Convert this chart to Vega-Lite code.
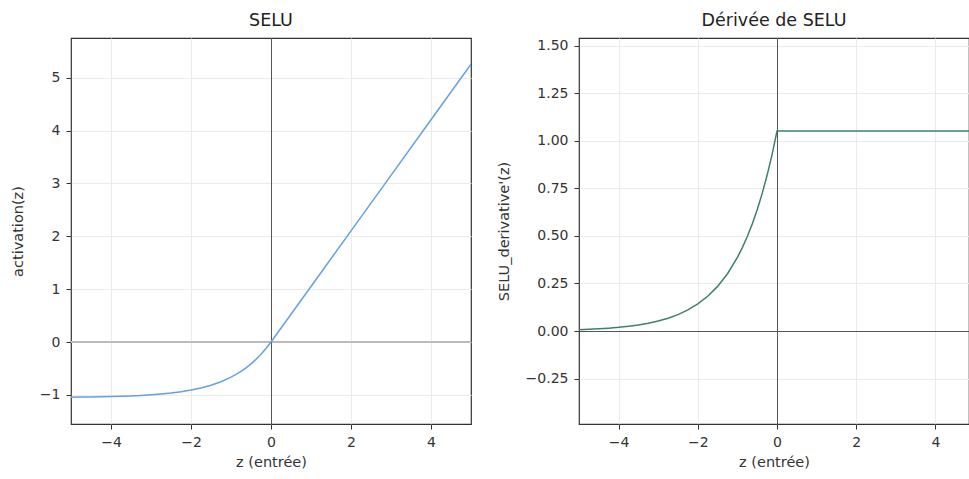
{
  "$schema": "https://vega.github.io/schema/vega-lite/v6.json",
  "padding": {"left": 9, "top": 11, "right": 0, "bottom": 0},
  "background": "white",
  "spacing": 22,
  "datasets": {
    "selu": [
      {"z": -5, "y": -1.04362, "d": 0.00708},
      {"z": -4.75, "y": -1.04161, "d": 0.00909},
      {"z": -4.5, "y": -1.03903, "d": 0.01167},
      {"z": -4.25, "y": -1.03571, "d": 0.01499},
      {"z": -4, "y": -1.03146, "d": 0.01925},
      {"z": -3.75, "y": -1.02599, "d": 0.02471},
      {"z": -3.5, "y": -1.01897, "d": 0.03173},
      {"z": -3.25, "y": -1.00996, "d": 0.04074},
      {"z": -3, "y": -0.99839, "d": 0.05231},
      {"z": -2.75, "y": -0.98353, "d": 0.06717},
      {"z": -2.5, "y": -0.96446, "d": 0.08625},
      {"z": -2.25, "y": -0.93996, "d": 0.11074},
      {"z": -2, "y": -0.9085, "d": 0.1422},
      {"z": -1.75, "y": -0.86812, "d": 0.18258},
      {"z": -1.5, "y": -0.81626, "d": 0.23444},
      {"z": -1.25, "y": -0.74967, "d": 0.30103},
      {"z": -1, "y": -0.66417, "d": 0.38653},
      {"z": -0.875, "y": -0.61271, "d": 0.438},
      {"z": -0.75, "y": -0.55438, "d": 0.49632},
      {"z": -0.625, "y": -0.4883, "d": 0.5624},
      {"z": -0.5, "y": -0.41341, "d": 0.63728},
      {"z": -0.375, "y": -0.32857, "d": 0.72213},
      {"z": -0.25, "y": -0.23241, "d": 0.81828},
      {"z": -0.125, "y": -0.12346, "d": 0.92724},
      {"z": 0, "y": 0, "d": 1.0507},
      {"z": 1, "y": 1.0507, "d": 1.0507},
      {"z": 2, "y": 2.1014, "d": 1.0507},
      {"z": 3, "y": 3.1521, "d": 1.0507},
      {"z": 4, "y": 4.2028, "d": 1.0507},
      {"z": 5, "y": 5.2535, "d": 1.0507}
    ]
  },
  "config": {
    "font": "DejaVu Sans",
    "view": {"stroke": "#333333", "strokeWidth": 1.2},
    "axis": {
      "domain": false,
      "grid": true,
      "gridColor": "#ebebeb",
      "gridWidth": 1,
      "tickColor": "#333333",
      "tickSize": 5,
      "labelFont": "DejaVu Sans",
      "labelFontSize": 14,
      "labelColor": "#333333",
      "titleFont": "DejaVu Sans",
      "titleFontSize": 14.5,
      "titleFontWeight": "normal",
      "titleColor": "#333333"
    },
    "axisX": {"labelPadding": 6, "titlePadding": 6},
    "axisY": {"labelPadding": 6, "titlePadding": 14},
    "title": {"font": "DejaVu Sans", "fontSize": 17.5, "fontWeight": "normal", "color": "#222222", "offset": 8}
  },
  "hconcat": [
    {
      "title": "SELU",
      "width": 400,
      "height": 386,
      "data": {"name": "selu"},
      "layer": [
        {"mark": {"type": "rule", "color": "#bbbbbb", "strokeWidth": 2}, "encoding": {"y": {"datum": 0}}},
        {"mark": {"type": "rule", "color": "#555555", "strokeWidth": 1, "xOffset": 0.5}, "encoding": {"x": {"datum": 0}}},
        {
          "mark": {"type": "line", "color": "#64a0e2", "strokeWidth": 1.5, "clip": true},
          "encoding": {
            "x": {"field": "z", "type": "quantitative", "scale": {"domain": [-5, 5], "nice": false, "zero": false},
                  "axis": {"title": "z (entrée)", "values": [-4, -2, 0, 2, 4], "format": "d"}},
            "y": {"field": "y", "type": "quantitative", "scale": {"domain": [-1.55, 5.75], "nice": false, "zero": false},
                  "axis": {"title": "activation(z)", "values": [-1, 0, 1, 2, 3, 4, 5], "format": "d"}}
          }
        }
      ]
    },
    {
      "title": "Dérivée de SELU",
      "width": 390,
      "height": 386,
      "data": {"name": "selu"},
      "layer": [
        {"mark": {"type": "rule", "color": "#555555", "strokeWidth": 1, "yOffset": 0.5}, "encoding": {"y": {"datum": 0}}},
        {"mark": {"type": "rule", "color": "#555555", "strokeWidth": 1, "xOffset": 0.5}, "encoding": {"x": {"datum": 0}}},
        {
          "mark": {"type": "line", "color": "#3f8068", "strokeWidth": 1.5, "clip": true},
          "encoding": {
            "x": {"field": "z", "type": "quantitative", "scale": {"domain": [-5, 4.848485], "nice": false, "zero": false},
                  "axis": {"title": "z (entrée)", "values": [-4, -2, 0, 2, 4], "format": "d"}},
            "y": {"field": "d", "type": "quantitative", "scale": {"domain": [-0.488805, 1.54], "nice": false, "zero": false},
                  "axis": {"title": "SELU_derivative'(z)", "values": [-0.25, 0, 0.25, 0.5, 0.75, 1, 1.25, 1.5], "format": ".2f"}}
          }
        }
      ]
    }
  ]
}
